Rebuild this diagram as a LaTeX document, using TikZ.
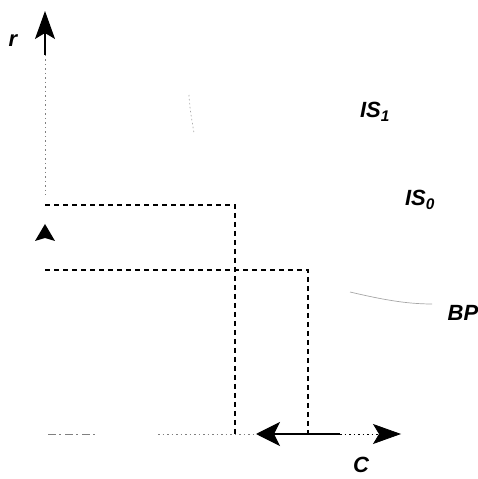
\documentclass[tikz,border=0pt]{standalone}
\usepackage{fontspec}
\setmainfont{Liberation Sans}
\usetikzlibrary{arrows.meta}
\begin{document}
\begin{tikzpicture}[x=1pt,y=1pt,
  lbl/.style={font=\fontsize{22}{22}\selectfont\bfseries\itshape, inner sep=0pt},
  guide/.style={line width=1.2pt, dash pattern=on 5pt off 4pt},
  axisdots/.style={line width=0.8pt, gray, dash pattern=on 1.5pt off 3pt},
  curve/.style={line width=0.7pt, gray!70},
  bigtip/.style={-{Stealth[length=28pt,width=20pt,inset=6pt]}},
]
\useasboundingbox (0,0) rectangle (478,479);
% points (y measured from the bottom)
\coordinate (O) at (45,45);
\coordinate (rtop) at (45,468);
\coordinate (rmid) at (45,424);
\coordinate (rlow) at (45,284);
\coordinate (A) at (45,274);
\coordinate (A1) at (235,274);
\coordinate (A2) at (235,44);
\coordinate (B) at (45,209);
\coordinate (B1) at (308,209);
\coordinate (B2) at (308,46);
\coordinate (Cl) at (256,45);
\coordinate (Cr) at (401,45);
\coordinate (Cm) at (340,45);

% vertical axis r
\draw[line width=1.3pt, bigtip] (rmid) -- (rtop);
\draw[axisdots] (rmid) -- (rlow);
\fill (45,255) -- (35,238) -- (45,241) -- (55,238) -- cycle;

% horizontal axis C
\draw[axisdots, dash pattern=on 8pt off 3pt on 2pt off 4pt] (48,45) -- (95,45);
\draw[axisdots] (158,45) -- (Cl);
\draw[line width=1.1pt, -{Stealth[length=24pt,width=24pt,inset=6pt]}] (Cm) -- (Cl);
\draw[axisdots, -{Stealth[length=28pt,width=20pt,inset=6pt]}, black] (Cm) -- (Cr);

% dashed guides
\draw[guide] (A) -- (A1) -- (A2);
\draw[guide] (B) -- (B1) -- (B2);

% curve fragments
\draw[curve, dash pattern=on 1.5pt off 2.5pt] (189,384) .. controls (190,370) .. (194,346);
\draw[curve] (350,187) .. controls (380,180) and (405,175) .. (432,175);

% labels
\node[lbl] (lr) at (13,438) {r};
\node[lbl] (lis1) at (375,367) {IS\textsubscript{1}};
\node[lbl] (lis0) at (420,279) {IS\textsubscript{0}};
\node[lbl] (lbp) at (463,166) {BP};
\node[lbl] (lc) at (361,14) {C};
\end{tikzpicture}
\end{document}
